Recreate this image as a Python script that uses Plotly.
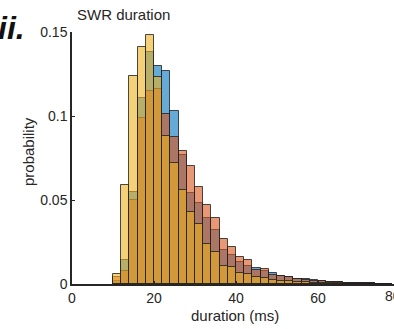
import plotly.graph_objects as go

# bin left edges (ms), bin width 2 ms
bin_left = list(range(10, 78, 2))
bin_width = 2

blue = [0.002, 0.014, 0.055, 0.111, 0.138, 0.130, 0.127, 0.103, 0.077, 0.054,
        0.048, 0.039, 0.032, 0.020, 0.017, 0.013, 0.011, 0.0093, 0.0075, 0.0063,
        0.0049, 0.0044, 0.0030, 0.0028, 0.0022, 0.0018, 0.0010, 0.0009, 0.0006, 0.0005,
        0.0004, 0.0004, 0.0003, 0.0003]
red = [0.004, 0.0075, 0.050, 0.099, 0.115, 0.116, 0.101, 0.0875, 0.079, 0.070,
       0.058, 0.047, 0.0395, 0.027, 0.022, 0.016, 0.014, 0.0085, 0.0089, 0.0055,
       0.0045, 0.0040, 0.0030, 0.0026, 0.0020, 0.0016, 0.0012, 0.0010, 0.0007, 0.0005,
       0.0004, 0.0004, 0.0003, 0.0003]
yellow = [0.006, 0.059, 0.124, 0.141, 0.148, 0.123, 0.088, 0.072, 0.056, 0.043,
          0.036, 0.024, 0.019, 0.011, 0.010, 0.0067, 0.006, 0.0044, 0.0034, 0.0024,
          0.0020, 0.0018, 0.0013, 0.0010, 0.0008, 0.0006, 0.0005, 0.0004, 0.0003, 0.0003,
          0.0002, 0.0002, 0.0002, 0.0002]

x_ticks = [0, 20, 40, 60]
y_ticks = [0, 0.05, 0.1, 0.15]
y_ticktext = ["0", "0.05", "0.1", "0.15"]

centers = [b + bin_width / 2 for b in bin_left]

series = [
    (blue, "rgba(0,114,189,0.6)"),
    (red, "rgba(217,83,25,0.6)"),
    (yellow, "rgba(237,177,32,0.6)"),
]

fig = go.Figure()
for vals, col in series:
    fig.add_trace(go.Bar(
        x=centers, y=vals, width=bin_width,
        marker=dict(color=col, line=dict(color="rgba(30,30,30,0.8)", width=1)),
        showlegend=False,
    ))

W, H = 394, 329
L, T, B = 72, 32, 45
px_per_ms = 4.1
xmax = (W - L) / px_per_ms

FONT = "Liberation Sans, Arial, sans-serif"
TXT = "#262626"

fig.update_layout(
    width=W, height=H,
    margin=dict(l=L, r=0, t=T, b=B, pad=0),
    plot_bgcolor="white", paper_bgcolor="white",
    barmode="overlay", bargap=0,
    font=dict(family=FONT, size=14, color=TXT),
    xaxis=dict(
        range=[0, xmax], tickvals=x_ticks, ticks="inside", ticklen=3,
        tickcolor=TXT, showline=True, linecolor=TXT, linewidth=1.5,
        showgrid=False, zeroline=False, tickfont=dict(size=14, color=TXT),
    ),
    yaxis=dict(
        range=[0, 0.15], tickvals=y_ticks, ticktext=y_ticktext, ticks="inside",
        ticklen=3, tickcolor=TXT, showline=True, linecolor=TXT, linewidth=1.5,
        showgrid=False, zeroline=False, tickfont=dict(size=14, color=TXT),
    ),
)

pw = W - L
ph = H - T - B

def px(xp):
    return (xp - L) / pw

def py(yp):
    return (H - B - yp) / ph

anns = [
    dict(text="SWR duration", x=px(123), y=py(14), size=15),
    dict(text="duration (ms)", x=px(235), y=py(315), size=15),
    dict(text="80", x=px(393), y=py(296), size=14),
]
for a in anns:
    fig.add_annotation(text=a["text"], xref="paper", yref="paper", x=a["x"], y=a["y"],
                       xanchor="center", yanchor="middle", showarrow=False,
                       font=dict(family=FONT, size=a["size"], color=TXT))

fig.add_annotation(text="probability", xref="paper", yref="paper", x=px(28), y=py(152),
                   xanchor="center", yanchor="middle", showarrow=False, textangle=-90,
                   font=dict(family=FONT, size=15, color=TXT))
fig.add_annotation(text="<b><i>ii.</i></b>", xref="paper", yref="paper", x=px(-4), y=py(28),
                   xanchor="left", yanchor="middle", showarrow=False,
                   font=dict(family=FONT, size=32, color="#111111"))

fig.write_html("out.html")
